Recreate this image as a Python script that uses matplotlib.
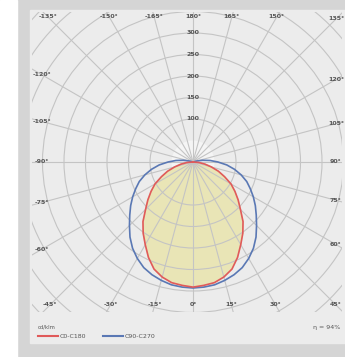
import numpy as np
import matplotlib.pyplot as plt
from matplotlib.patches import Rectangle, Circle
from matplotlib.lines import Line2D

# luminous intensity in cd/klm
gamma_c0 = [0, 5, 10, 15, 20, 25, 30, 35, 40, 45, 50, 55, 60, 65, 70, 75, 80, 85, 90]
cd_c0 = [291, 288, 285, 277, 265, 245, 222, 202, 181, 156, 137, 119, 102, 81, 63, 44, 28, 14, 0]

gamma_c90 = [0, 5, 10, 15, 20, 25, 30, 35, 40, 45, 50, 55, 60, 65, 70, 75, 80, 85, 90,
             95, 100, 105, 110]
cd_c90 = [293, 292, 290, 285, 279, 271, 259, 245, 228, 209, 192, 177, 162, 147, 133, 116,
          98, 79, 58, 40, 23, 9, 0]

ring_step = 50
ring_labels = ["100", "150", "200", "250", "300"]
angle_labels = [-180 + 15 * i for i in range(24)]
eta_text = "η = 94%"

W, H = 345, 357
fig = plt.figure(figsize=(W / 100, H / 100), dpi=100)
fig.patch.set_facecolor('#d5d5d5')


def fx(px):
    return px / W


def fy(py):
    return 1 - py / H


fig.add_artist(Rectangle((0, 0), fx(17), 1, transform=fig.transFigure,
                         color='white', zorder=0))
fig.add_artist(Rectangle((fx(30), fy(343)), fx(315), fy(10) - fy(343),
                         transform=fig.transFigure, color='#ececec', zorder=0))

# origin of the diagram in pixels and scale
ox, oy = 193, 162
s = ring_step / 21.5  # cd/klm per pixel
left, right, top, bottom = 32, 342, 12, 312
ax = fig.add_axes([fx(left), fy(bottom), fx(right - left), fy(top) - fy(bottom)])
ax.set_xlim((left - ox) * s, (right - ox) * s)
ax.set_ylim(-(bottom - oy) * s, (oy - top) * s)
ax.axis('off')

grid_col = '#c4c4c4'
ax.add_patch(Circle((0, 0), ring_step, color='#f5f5f5', zorder=0.5, lw=0))
for k in range(2, 14):
    ax.add_patch(Circle((0, 0), k * ring_step, fill=False, ec=grid_col, lw=0.8, zorder=2))
R = 14 * ring_step
for a in range(0, 360, 15):
    t = np.radians(a)
    ax.plot([0, R * np.sin(t)], [0, -R * np.cos(t)], color=grid_col, lw=0.8, zorder=2)


def curve(gam, cd):
    g = np.radians(np.concatenate([-np.array(gam[::-1]), np.array(gam[1:])]))
    v = np.concatenate([np.array(cd[::-1]), np.array(cd[1:])])
    return v * np.sin(g), -v * np.cos(g)


xr, yr = curve(gamma_c0, cd_c0)
xb, yb = curve(gamma_c90, cd_c90)
ax.fill(xr, yr, color='#e9e5b6', zorder=1)
ax.plot(xb, yb, color='#5a78b4', lw=1.2, zorder=3)
ax.plot(xr, yr, color='#e05a5a', lw=1.2, zorder=3)

# ring values on the vertical
for i, lab in enumerate(ring_labels):
    r = (i + 2) * ring_step
    ax.text(0, r, lab, ha='center', va='center', fontsize=4.5, color='#555555',
            zorder=4, fontweight='bold')

# angle labels around the border
lx0, lx1, ly0, ly1 = 42, 336, 17, 305
for a in angle_labels:
    t = np.radians(a)
    dx, dy = np.sin(t), np.cos(t)  # dy positive = down in pixels
    ts = []
    if dx < -1e-9:
        ts.append((lx0 - ox) / dx)
    if dx > 1e-9:
        ts.append((lx1 - ox) / dx)
    if dy < -1e-9:
        ts.append((ly0 - oy) / dy)
    if dy > 1e-9:
        ts.append((ly1 - oy) / dy)
    k = min(ts)
    px, py = ox + k * dx, oy + k * dy
    txt = f"{a}°" if a != -180 else "180°"
    fig.text(fx(px), fy(py), txt, ha='center', va='center', fontsize=4.5,
             color='#555555', fontweight='bold')

# legend
fig.text(fx(38), fy(327), "cd/klm", fontsize=3.8, color='#555555', va='center')
fig.add_artist(Line2D([fx(38), fx(58)], [fy(336), fy(336)], color='#e05a5a', lw=1.5,
                      transform=fig.transFigure))
fig.text(fx(60), fy(336), "C0-C180", fontsize=4.5, color='#555555', va='center')
fig.add_artist(Line2D([fx(103), fx(123)], [fy(336), fy(336)], color='#5a78b4', lw=1.5,
                      transform=fig.transFigure))
fig.text(fx(125), fy(336), "C90-C270", fontsize=4.5, color='#555555', va='center')
fig.text(fx(340), fy(327), eta_text, fontsize=4.5, color='#555555', va='center', ha='right')

fig.savefig('out.png', dpi=100, facecolor=fig.get_facecolor())
